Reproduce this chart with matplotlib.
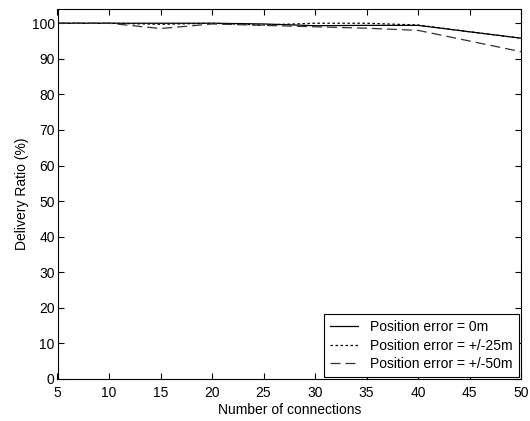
import matplotlib
matplotlib.use('Agg')
import matplotlib.pyplot as plt

connections = [5, 10, 15, 20, 25, 30, 35, 40, 45, 50]
err_0m = [100, 100, 100, 100, 99.8, 99.3, 99.4, 99.4, 97.6, 95.8]
err_25m = [100, 100, 99.7, 100, 99.5, 100, 100, 99.5, 97.6, 95.8]
err_50m = [100, 100, 98.5, 99.8, 99.4, 99.0, 98.6, 98.0, 95.0, 92.0]

plt.rcParams['font.family'] = ['Liberation Sans', 'DejaVu Sans']
plt.rcParams['font.size'] = 10

fig = plt.figure(figsize=(5.3, 4.21), dpi=100)
ax = fig.add_axes([57.5/530, 1-379/421, (521-57.5)/530, (379-9)/421])

ax.plot(connections, err_0m, color='black', lw=0.9, ls='-', label='Position error = 0m')
ax.plot(connections, err_25m, color='black', lw=0.9, ls=(0, (2, 2)), label='Position error = +/-25m')
ax.plot(connections, err_50m, color='#333333', lw=0.9, ls=(0, (8, 4)), label='Position error = +/-50m')

ax.set_xlim(5, 50)
ax.set_ylim(0, 104)
ax.set_xticks(range(5, 51, 5))
ax.set_yticks(range(0, 101, 10))
ax.tick_params(direction='in', top=True, right=True, length=4, width=0.8, labelsize=10)
ax.tick_params(axis='x', pad=5)
ax.tick_params(axis='y', pad=2)
for s in ax.spines.values():
    s.set_linewidth(0.8)
ax.set_xlabel('Number of connections', fontsize=10, labelpad=2)
ax.set_ylabel('Delivery Ratio (%)', fontsize=10, labelpad=2)

# legend box sits tight against the lower right corner, like the matlab one
leg = ax.legend(loc='lower right', fancybox=False, edgecolor='black', framealpha=1,
                fontsize=10, handlelength=2.0, handletextpad=0.9, borderaxespad=0.15,
                labelspacing=0.3, borderpad=0.45)
leg.get_frame().set_linewidth(0.8)

fig.savefig('out.png', dpi=100)
